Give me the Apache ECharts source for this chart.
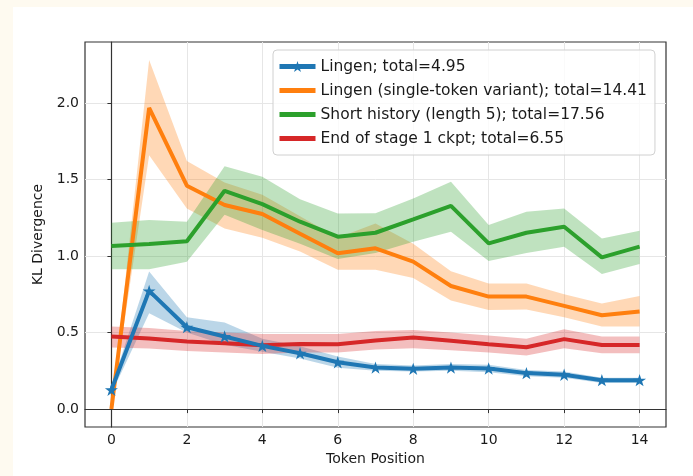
<!DOCTYPE html>
<html>
<head>
<meta charset="utf-8">
<script src="https://cdn.jsdelivr.net/npm/echarts@6/dist/echarts.min.js"></script>
<style>
html,body{margin:0;padding:0;background:#fefaf0;}
#panel{position:absolute;left:13px;top:7px;width:680px;height:469px;background:#ffffff;}
#chart{position:absolute;left:0;top:0;width:693px;height:476px;}
</style>
</head>
<body>
<div id="panel"></div>
<div id="chart"></div>
<script>
// ---- data ----
const positions = [0,1,2,3,4,5,6,7,8,9,10,11,12,13,14];
const xTicks = [0,2,4,6,8,10,12,14];
const yTicks = [0,0.5,1.0,1.5,2.0];

const seriesNames = [
  'Lingen; total=4.95',
  'Lingen (single-token variant); total=14.41',
  'Short history (length 5); total=17.56',
  'End of stage 1 ckpt; total=6.55'
];

const lingenMean  = [0.126,0.772,0.535,0.474,0.413,0.365,0.306,0.271,0.263,0.271,0.265,0.235,0.224,0.189,0.189];
const lingenUpper = [0.150,0.898,0.600,0.565,0.460,0.410,0.343,0.295,0.285,0.295,0.290,0.255,0.245,0.205,0.205];
const lingenLower = [0.100,0.626,0.500,0.420,0.375,0.330,0.270,0.250,0.245,0.250,0.240,0.215,0.205,0.170,0.170];

const singleMean  = [0.000,1.967,1.459,1.333,1.274,1.145,1.018,1.050,0.963,0.804,0.735,0.735,0.674,0.613,0.637];
const singleUpper = [0.005,2.280,1.620,1.480,1.400,1.260,1.120,1.213,1.080,0.900,0.820,0.820,0.750,0.690,0.739];
const singleLower = [-0.005,1.659,1.311,1.180,1.120,1.030,0.910,0.910,0.856,0.710,0.647,0.650,0.600,0.539,0.539];

const shortMean  = [1.065,1.078,1.096,1.426,1.339,1.224,1.126,1.152,1.239,1.328,1.083,1.152,1.191,0.991,1.061];
const shortUpper = [1.217,1.235,1.224,1.587,1.517,1.370,1.278,1.280,1.376,1.485,1.202,1.289,1.311,1.115,1.165];
const shortLower = [0.913,0.913,0.963,1.270,1.170,1.080,0.980,1.020,1.093,1.159,0.967,1.020,1.061,0.882,0.948];

const stageMean  = [0.474,0.461,0.441,0.430,0.417,0.425,0.424,0.448,0.467,0.446,0.424,0.404,0.457,0.419,0.419];
const stageUpper = [0.539,0.530,0.510,0.500,0.490,0.490,0.490,0.510,0.517,0.500,0.480,0.460,0.522,0.474,0.474];
const stageLower = [0.402,0.395,0.380,0.370,0.360,0.370,0.370,0.390,0.398,0.385,0.370,0.350,0.398,0.365,0.365];

// ---- styling ----
const colors = ['#1f77b4','#ff7f0e','#2ca02c','#d62728'];
const starPath = 'path://M100 0 L122.45 69.1 L195.11 69.1 L136.33 111.8 L158.78 180.9 L100 138.2 L41.22 180.9 L63.67 111.8 L4.89 69.1 L77.55 69.1 Z';
const barIcon = 'path://M0 0H36V5H0Z';
const FONT = 'DejaVu Sans';

const means  = [lingenMean, singleMean, shortMean, stageMean];
const uppers = [lingenUpper, singleUpper, shortUpper, stageUpper];
const lowers = [lingenLower, singleLower, shortLower, stageLower];

const pairs = arr => positions.map((x,i)=>[x, arr[i]]);

const series = [];
// shaded bands (drawn below all lines), polygons through the axis scales
series.push({
  type:'custom', name:'bands', silent:true, z:1,
  data: [[0,0],[1,0],[2,0],[3,0]],
  encode:{x:-1, y:-1},
  renderItem: function(params, api){
    const k = params.dataIndex;
    const up = uppers[k], lo = lowers[k];
    const pts = [];
    for (let i=0;i<positions.length;i++) pts.push(api.coord([positions[i], up[i]]));
    for (let i=positions.length-1;i>=0;i--) pts.push(api.coord([positions[i], lo[i]]));
    return {type:'polygon', shape:{points:pts}, style:{fill:colors[k], opacity:0.3}};
  },
  clip:true
});
// mean lines (blue drawn last so its stars sit on top)
const lineOrder = [1,2,3,0];
for (const k of lineOrder){
  series.push({
    type:'line', name:seriesNames[k], data:pairs(means[k]),
    symbol: k===0 ? starPath : 'none',
    symbolSize: 13, symbolKeepAspect:true, showSymbol: k===0,
    itemStyle:{color:colors[k]},
    lineStyle:{color:colors[k], width:4},
    z:2
  });
}

const chart = echarts.init(document.getElementById('chart'), null, {renderer:'canvas'});
chart.setOption({
  animation:false,
  backgroundColor:'transparent',
  textStyle:{fontFamily:FONT},
  grid:{left:85, right:27, top:42, bottom:49, show:true, borderColor:'#333', borderWidth:1.2, backgroundColor:'transparent'},
  legend:{
    orient:'vertical', left:273, top:50,
    data:[
      {name:seriesNames[0]},
      {name:seriesNames[1], icon:barIcon},
      {name:seriesNames[2], icon:barIcon},
      {name:seriesNames[3], icon:barIcon}
    ],
    itemWidth:36, itemHeight:14, itemGap:8,
    padding:[8.5,8,8.5,4],
    backgroundColor:'rgba(255,255,255,0.8)',
    borderColor:'#d0d0d0', borderWidth:1, borderRadius:4,
    lineStyle:{width:5},
    textStyle:{fontFamily:FONT, fontSize:15.5, color:'#1a1a1a'},
    selectedMode:false
  },
  xAxis:{
    type:'value', min:-0.7, max:14.7,
    name:'Token Position', nameLocation:'middle', nameGap:22,
    nameTextStyle:{fontFamily:FONT, fontSize:14, color:'#1a1a1a'},
    axisLine:{show:true, lineStyle:{color:'#333', width:1.2}},
    axisTick:{show:true, length:4, lineStyle:{color:'#333'}, customValues:xTicks},
    axisLabel:{fontFamily:FONT, fontSize:14, color:'#1a1a1a', margin:6, customValues:xTicks,
      formatter:v=>String(v)},
    splitLine:{show:true, lineStyle:{color:'#e6e6e6', width:1}}
  },
  yAxis:{
    type:'value', min:-0.117, max:2.398,
    name:'KL Divergence', nameLocation:'middle', nameGap:30, nameRotate:90,
    nameTextStyle:{fontFamily:FONT, fontSize:14, color:'#1a1a1a'},
    axisLine:{show:true, lineStyle:{color:'#333', width:1.2}},
    axisTick:{show:true, length:4, lineStyle:{color:'#333'}, customValues:yTicks},
    axisLabel:{fontFamily:FONT, fontSize:14, color:'#1a1a1a', margin:6, customValues:yTicks,
      formatter:v=>v.toFixed(1)},
    splitLine:{show:true, lineStyle:{color:'#e6e6e6', width:1}}
  },
  series:series
});
</script>
</body>
</html>
